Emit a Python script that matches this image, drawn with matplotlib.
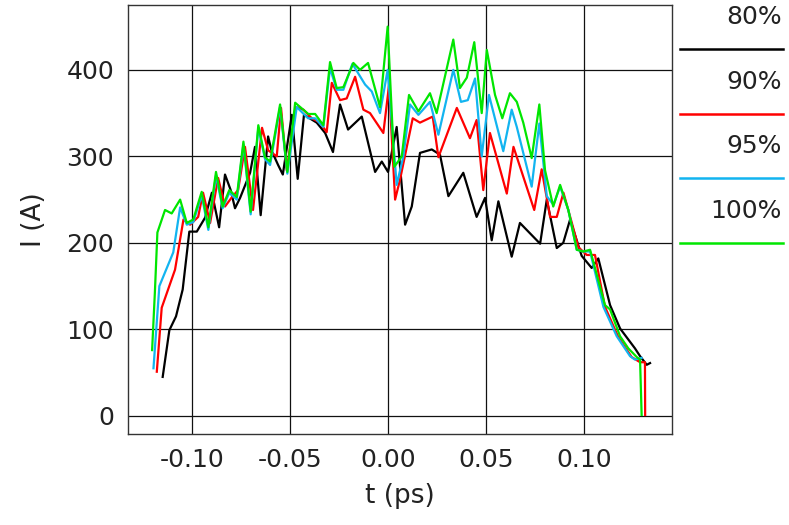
import matplotlib
matplotlib.use("Agg")
import matplotlib.pyplot as plt
from matplotlib.lines import Line2D

# current pulse for four settings, t in ps, I in A
t80 = [-0.1150, -0.1116, -0.1082, -0.1048, -0.1014, -0.0976, -0.0934, -0.0899, -0.0862, -0.0832,
       -0.0803, -0.0781, -0.0755, -0.0704, -0.0679, -0.0650, -0.0612, -0.0595, -0.0561, -0.0537,
       -0.0491, -0.0461, -0.0429, -0.0364, -0.0321, -0.0281, -0.0245, -0.0204, -0.0134, -0.0066,
       -0.0032, 0.0000, 0.0044, 0.0087, 0.0121, 0.0163, 0.0223, 0.0265, 0.0308, 0.0384,
       0.0452, 0.0495, 0.0529, 0.0563, 0.0631, 0.0673, 0.0776, 0.0810, 0.0861, 0.0894,
       0.0929, 0.0988, 0.1039, 0.1073, 0.1133, 0.1184, 0.1260, 0.1286, 0.1320, 0.1337]
i80 = [45, 99, 115, 146, 213, 213, 229, 258, 218, 279,
       261, 240, 252, 281, 311, 232, 323, 307, 290, 279,
       348, 274, 348, 339, 327, 305, 360, 331, 346, 282,
       294, 282, 334, 221, 242, 304, 308, 302, 254, 281,
       230, 252, 203, 248, 184, 223, 199, 250, 194, 200,
       227, 185, 171, 182, 128, 101, 78, 69, 59, 61]

t90 = [-0.1180, -0.1155, -0.1087, -0.1044, -0.1010, -0.0969, -0.0944, -0.0908, -0.0867, -0.0832,
       -0.0796, -0.0765, -0.0730, -0.0689, -0.0643, -0.0612, -0.0568, -0.0546, -0.0517, -0.0471,
       -0.0432, -0.0389, -0.0347, -0.0313, -0.0287, -0.0245, -0.0211, -0.0168, -0.0126, -0.0092,
       -0.0024, 0.0005, 0.0036, 0.0061, 0.0126, 0.0163, 0.0228, 0.0257, 0.0351, 0.0418,
       0.0452, 0.0486, 0.0520, 0.0606, 0.0640, 0.0746, 0.0784, 0.0827, 0.0861, 0.0895,
       0.0938, 0.0971, 0.1014, 0.1056, 0.1107, 0.1175, 0.1243, 0.1286, 0.1311, 0.1312]
i90 = [51, 125, 169, 227, 221, 230, 258, 223, 275, 242,
       253, 261, 311, 238, 333, 307, 300, 356, 284, 357,
       354, 344, 339, 328, 385, 365, 367, 392, 354, 350,
       327, 382, 250, 273, 344, 339, 346, 299, 356, 321,
       342, 261, 327, 257, 311, 238, 285, 230, 230, 258,
       223, 195, 186, 186, 126, 91, 68, 62, 62, 1]

t95 = [-0.1197, -0.1167, -0.1096, -0.1061, -0.1027, -0.0994, -0.0951, -0.0917, -0.0878, -0.0844,
       -0.0810, -0.0772, -0.0738, -0.0701, -0.0662, -0.0628, -0.0602, -0.0551, -0.0514, -0.0466,
       -0.0408, -0.0372, -0.0330, -0.0296, -0.0262, -0.0228, -0.0182, -0.0117, -0.0083, -0.0041,
       -0.0002, 0.0044, 0.0078, 0.0112, 0.0155, 0.0214, 0.0257, 0.0333, 0.0372, 0.0407,
       0.0444, 0.0478, 0.0515, 0.0588, 0.0631, 0.0657, 0.0733, 0.0772, 0.0810, 0.0844,
       0.0878, 0.0920, 0.0963, 0.0997, 0.1031, 0.1099, 0.1167, 0.1235, 0.1260, 0.1294]
i95 = [55, 150, 189, 241, 221, 224, 255, 215, 278, 240,
       258, 250, 314, 233, 333, 297, 290, 357, 280, 357,
       344, 344, 334, 402, 377, 377, 407, 383, 375, 350,
       400, 267, 300, 360, 348, 363, 325, 400, 363, 365,
       390, 300, 371, 306, 354, 334, 265, 338, 254, 244,
       265, 238, 192, 190, 190, 126, 92, 69, 65, 67]

t100 = [-0.1204, -0.1190, -0.1177, -0.1138, -0.1104, -0.1061, -0.1027, -0.0994, -0.0951, -0.0917,
        -0.0878, -0.0844, -0.0810, -0.0772, -0.0738, -0.0701, -0.0662, -0.0628, -0.0602, -0.0551,
        -0.0514, -0.0474, -0.0407, -0.0372, -0.0330, -0.0296, -0.0262, -0.0228, -0.0177, -0.0143,
        -0.0102, -0.0041, -0.0002, 0.0032, 0.0070, 0.0107, 0.0155, 0.0214, 0.0248, 0.0333,
        0.0367, 0.0402, 0.0440, 0.0478, 0.0504, 0.0546, 0.0583, 0.0622, 0.0657, 0.0690,
        0.0733, 0.0772, 0.0801, 0.0843, 0.0878, 0.0920, 0.0963, 0.0997, 0.1031, 0.1107,
        0.1133, 0.1184, 0.1226, 0.1269, 0.1286, 0.1294]
i100 = [76, 142, 212, 238, 234, 250, 223, 227, 259, 218,
        282, 242, 261, 253, 317, 236, 336, 299, 294, 360,
        282, 362, 349, 349, 336, 409, 379, 380, 408, 400,
        408, 357, 450, 288, 300, 371, 352, 373, 350, 435,
        379, 391, 432, 350, 423, 371, 344, 373, 363, 339,
        298, 360, 284, 242, 267, 238, 192, 190, 192, 128,
        123, 92, 78, 68, 65, 1]

labels = ["80%", "90%", "95%", "100%"]
colors = ["#000000", "#ff0000", "#12b4f0", "#00e600"]
xticks = [-0.10, -0.05, 0.00, 0.05, 0.10]
yticks = [0, 100, 200, 300, 400]

W, H = 789, 525
fig = plt.figure(figsize=(W / 100, H / 100), dpi=100)
ax = fig.add_axes([128 / W, 1 - 434 / H, 544 / W, 429 / H])

txt = dict(family="DejaVu Sans", color="#222222")
series = [(t80, i80), (t90, i90), (t95, i95), (t100, i100)]
for (t, i), c in zip(series, colors):
    ax.plot(t, i, color=c, lw=1.6, zorder=3)

ax.set_xlim(-0.1327, 0.1449)
ax.set_ylim(-21, 475)
ax.set_xticks(xticks)
ax.set_yticks(yticks)
ax.set_xticklabels([f"{v:.2f}" for v in xticks], fontsize=18, **txt)
ax.set_yticklabels([str(v) for v in yticks], fontsize=18, **txt)
ax.tick_params(length=0, pad=10)
ax.grid(True, color="#111111", lw=0.9, zorder=1)
for s in ax.spines.values():
    s.set_color("#333333")
    s.set_linewidth(1.0)

ax.set_xlabel("t (ps)", fontsize=19, labelpad=8, **txt)
ax.set_ylabel("I (A)", fontsize=19, labelpad=14, **txt)

# legend in the right margin
leg_text_y = [17, 82, 146, 211]
leg_line_y = [49, 114, 178, 243]
for lab, c, ty, ly in zip(labels, colors, leg_text_y, leg_line_y):
    fig.text(782 / W, 1 - ty / H, lab, ha="right", va="center", fontsize=18, **txt)
    fig.add_artist(Line2D([680 / W, 783 / W], [1 - ly / H, 1 - ly / H],
                          color=c, lw=1.8, transform=fig.transFigure))

fig.savefig("out.png", dpi=100)
